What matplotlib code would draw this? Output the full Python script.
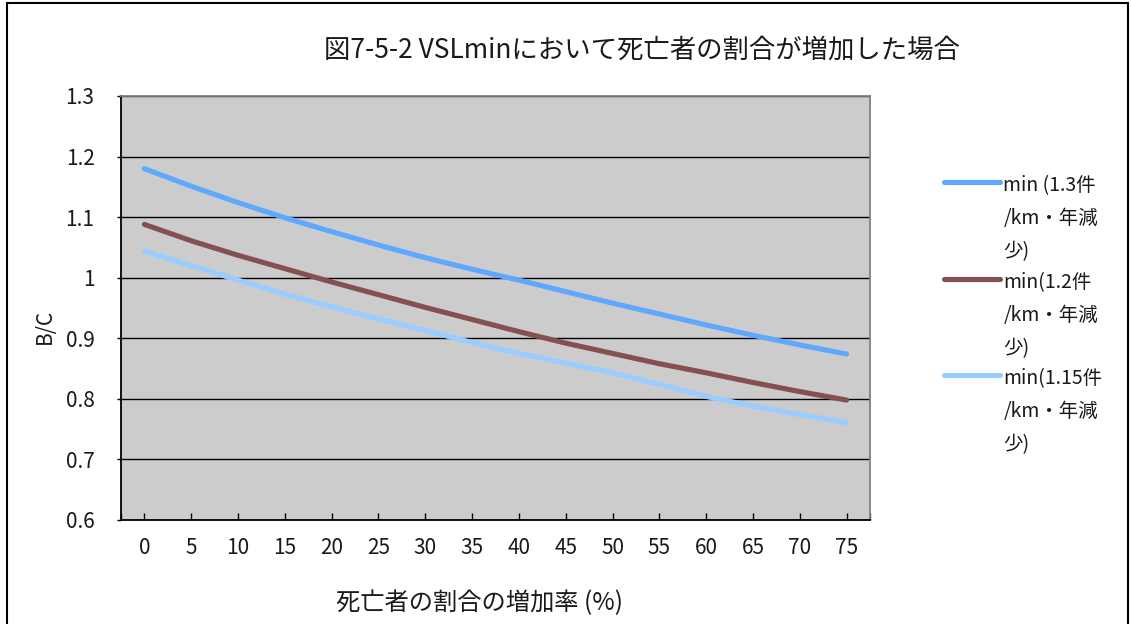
import numpy as np
import matplotlib
matplotlib.use('Agg')
import matplotlib.pyplot as plt
from matplotlib.patches import Rectangle

plt.rcParams['font.family'] = ['Noto Sans CJK JP', 'DejaVu Sans']

# 死亡者の割合の増加率 (%)
rates = [0, 5, 10, 15, 20, 25, 30, 35, 40, 45, 50, 55, 60, 65, 70, 75]

# B/C
bc_13 = [1.180, 1.151, 1.124, 1.099, 1.076, 1.054, 1.033, 1.014,
         0.996, 0.977, 0.958, 0.940, 0.922, 0.905, 0.889, 0.874]
bc_12 = [1.088, 1.061, 1.037, 1.015, 0.993, 0.972, 0.951, 0.931,
         0.911, 0.892, 0.875, 0.858, 0.843, 0.827, 0.812, 0.798]
bc_115 = [1.044, 1.020, 0.996, 0.973, 0.952, 0.932, 0.913, 0.893,
          0.875, 0.859, 0.843, 0.824, 0.804, 0.788, 0.774, 0.761]

labels = ['min (1.3件\n/km・年減\n少)', 'min(1.2件\n/km・年減\n少)', 'min(1.15件\n/km・年減\n少)']
colors = ['#5FA8FF', '#845050', '#99CCFF']
y_ticks = [0.6, 0.7, 0.8, 0.9, 1.0, 1.1, 1.2, 1.3]
y_ticklabels = ['0.6', '0.7', '0.8', '0.9', '1', '1.1', '1.2', '1.3']

text_color = '#1a1a1a'

fig = plt.figure(figsize=(11.32, 6.24), dpi=100)
ax = fig.add_axes([121 / 1132, 1 - 520 / 624, 749 / 1132, 424 / 624])
ax.set_facecolor('#CCCCCC')

x = np.arange(len(rates))
for vals, lab, col in zip([bc_13, bc_12, bc_115], labels, colors):
    ax.plot(x, vals, color=col, lw=3.7, label=lab, solid_capstyle='round', solid_joinstyle='round', zorder=3)

ax.set_xlim(-0.5, len(rates) - 0.5)
ax.set_ylim(0.6, 1.3)
ax.set_xticks(x)
ax.set_xticklabels([str(r) for r in rates])
ax.set_xticks([-0.5, len(rates) - 0.5], minor=True)
ax.set_yticks(y_ticks)
ax.set_yticklabels(y_ticklabels)

ax.grid(axis='y', color='black', lw=1.0, zorder=1)
ax.set_axisbelow(True)

ax.tick_params(axis='x', which='both', direction='in', length=5, width=1, color='black',
               labelsize=15, labelcolor=text_color, pad=12)
ax.tick_params(axis='y', direction='out', length=3, width=1, color='black',
               labelsize=15, labelcolor=text_color, pad=16)

for side in ['left', 'bottom']:
    ax.spines[side].set_color('black')
    ax.spines[side].set_linewidth(1.3)
for side in ['top', 'right']:
    ax.spines[side].set_color('#808080')
    ax.spines[side].set_linewidth(1.3)

fig.text(642 / 1132, 1 - 50 / 624, '図7-5-2 VSLminにおいて死亡者の割合が増加した場合',
         ha='center', va='center', fontsize=19, color=text_color)
fig.text(480 / 1132, 1 - 603 / 624, '死亡者の割合の増加率 (%)',
         ha='center', va='center', fontsize=17.5, color=text_color)
fig.text(45 / 1132, 1 - 326 / 624, 'B/C', rotation=90,
         ha='center', va='center', fontsize=15, color=text_color)

leg = ax.legend(loc='upper left', bbox_to_anchor=(944 / 1132, 1 - 175 / 624),
                bbox_transform=fig.transFigure, frameon=False, fontsize=14,
                handlelength=2.9, handletextpad=0.15, labelspacing=0.5,
                borderpad=0, borderaxespad=0)
for t in leg.get_texts():
    t.set_color(text_color)
    t.set_linespacing(1.75)
for col in leg._legend_handle_box.get_children():
    for row in col.get_children():
        row.align = 'top'

# 外枠
fig.patches.append(Rectangle((7 / 1132, -0.05), 1121 / 1132, 1.05 - 3 / 624,
                             transform=fig.transFigure, fill=False,
                             edgecolor='black', lw=1.5))

fig.savefig('out.png', dpi=100)
plt.close(fig)
